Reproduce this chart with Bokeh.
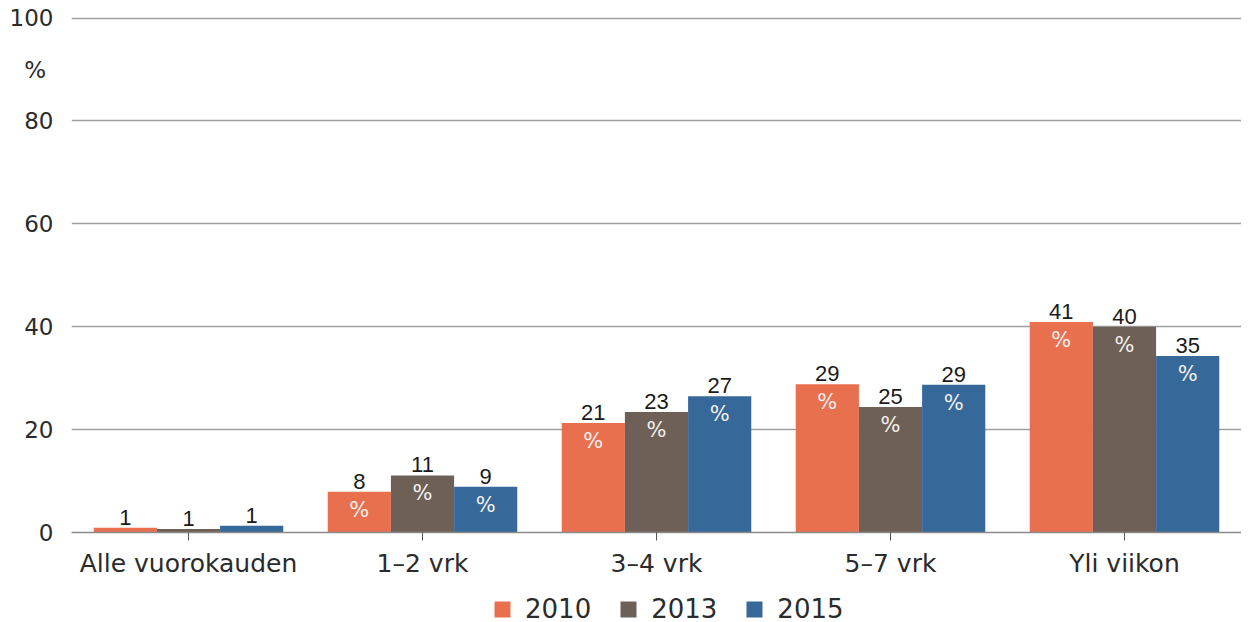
from bokeh.plotting import figure
from bokeh.layouts import column
from bokeh.models import (FactorRange, Range1d, Legend, LegendItem,
                          ColumnDataSource, FixedTicker)
from bokeh.transform import dodge
from bokeh.core.properties import value
from bokeh.embed import file_html
from bokeh.resources import INLINE

categories = ["Alle vuorokauden", "1–2 vrk", "3–4 vrk", "5–7 vrk", "Yli viikon"]
years = ["2010", "2013", "2015"]
values_2010 = [0.9, 7.9, 21.3, 28.8, 40.9]
values_2013 = [0.7, 11.1, 23.4, 24.4, 40.0]
values_2015 = [1.3, 8.9, 26.5, 28.7, 34.3]
labels_2010 = ["1", "8", "21", "29", "41"]
labels_2013 = ["1", "11", "23", "25", "40"]
labels_2015 = ["1", "9", "27", "29", "35"]
y_ticks = [0, 20, 40, 60, 80, 100]
unit_tick = 90
unit_label = "%\u00a0"
colors = ["#E8704F", "#6E6056", "#36689A"]

series_values = [values_2010, values_2013, values_2015]
series_labels = [labels_2010, labels_2013, labels_2015]
offsets = [-0.27, 0.0, 0.27]

LEFT = 71

p = figure(frame_width=1170, frame_height=517, x_range=FactorRange(*categories),
           y_range=Range1d(0, 100.5), output_backend="svg",
           toolbar_location=None, min_border_left=LEFT, min_border_right=0,
           min_border_top=15, min_border_bottom=62)
p.outline_line_color = None
p.background_fill_color = "white"
p.border_fill_color = "white"

p.xgrid.grid_line_color = None
p.ygrid.ticker = FixedTicker(ticks=y_ticks)
p.ygrid.grid_line_color = "#a0a0a0"
p.ygrid.grid_line_width = 1.5
p.yaxis.ticker = FixedTicker(ticks=y_ticks + [unit_tick])
p.yaxis.major_label_overrides = {unit_tick: unit_label}
p.yaxis.axis_line_color = None
p.yaxis.major_tick_line_color = None
p.yaxis.minor_tick_line_color = None
p.yaxis.major_tick_out = 0
p.yaxis.major_tick_in = 0
p.yaxis.major_label_standoff = 18
p.yaxis.major_label_text_font = "DejaVu Sans"
p.yaxis.major_label_text_font_size = "23px"
p.yaxis.major_label_text_color = "#2b2b2b"

p.xaxis.axis_line_color = "#8a8a8a"
p.xaxis.axis_line_width = 1.5
p.xaxis.major_tick_line_color = "#555555"
p.xaxis.major_tick_out = 8
p.xaxis.major_tick_in = 0
p.xaxis.major_label_standoff = 8
p.xaxis.major_label_text_font = "DejaVu Sans"
p.xaxis.major_label_text_font_size = "25px"
p.xaxis.major_label_text_color = "#2b2b2b"

for i in range(3):
    vals = series_values[i]
    src = ColumnDataSource(dict(
        x=categories, top=vals, label=series_labels[i],
        pct=["%" if v > 3 else "" for v in vals]))
    xd = dodge("x", offsets[i], range=p.x_range)
    p.vbar(x=xd, top="top", width=0.27, source=src,
           fill_color=colors[i], line_color=None)
    p.text(x=xd, y="top", text="label", source=src, text_align="center",
           text_baseline="bottom", y_offset=-3,
           text_font=value("Liberation Sans"), text_font_size="22px",
           text_color="#1a1a1a")
    p.text(x=xd, y="top", text="pct", source=src, text_align="center",
           text_baseline="top", y_offset=6,
           text_font=value("DejaVu Sans"), text_font_size="21px",
           text_color="#f4f0ee")

# legend strip below the chart (its swatch renderers sit outside the visible range)
lg = figure(frame_width=1170, frame_height=30, x_range=Range1d(0, 1),
            y_range=Range1d(0, 1), output_backend="svg", toolbar_location=None,
            x_axis_type=None, y_axis_type=None, min_border_left=LEFT,
            min_border_right=0, min_border_top=0, min_border_bottom=0)
lg.outline_line_color = None
lg.xgrid.visible = False
lg.ygrid.visible = False
items = []
for i in range(3):
    r = lg.vbar(x=[5], top=[1], width=0.1, fill_color=colors[i], line_color=None)
    items.append(LegendItem(label=years[i], renderers=[r]))
legend = Legend(items=items, orientation="horizontal", location=(421, 0),
                label_text_font="DejaVu Sans", label_text_font_size="26px",
                label_text_color="#2b2b2b",
                glyph_width=20, glyph_height=20, label_standoff=13,
                spacing=27, padding=0, margin=0, border_line_color=None,
                background_fill_alpha=0)
lg.add_layout(legend, "center")

layout = column(p, lg, spacing=0)
open("out.html", "w").write(file_html(layout, INLINE))
